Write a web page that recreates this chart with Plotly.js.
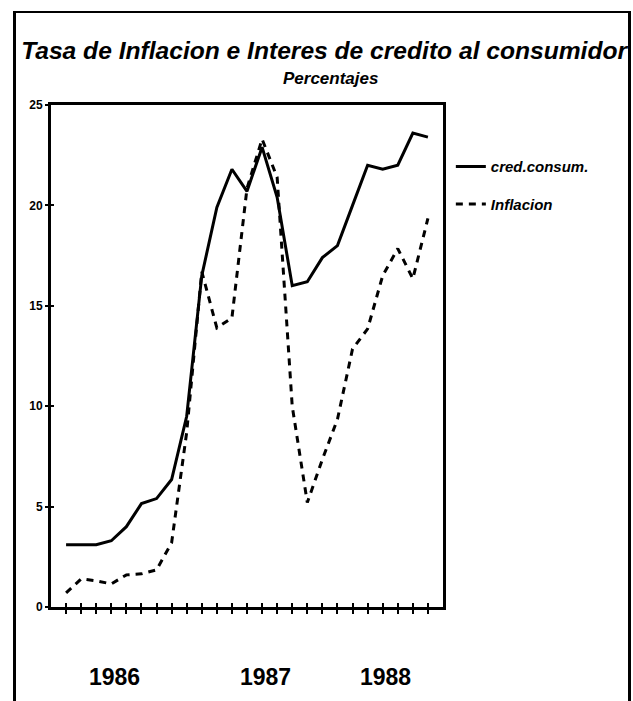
<!DOCTYPE html>
<html>
<head>
<meta charset="utf-8">
<script src="https://cdn.plot.ly/plotly-3.0.1.min.js"></script>
<style>
  html, body { margin: 0; padding: 0; background: #fff; }
  #wrap { position: relative; width: 633px; height: 701px; }
  #chart { position: absolute; left: 0; top: 0; width: 633px; height: 701px; }
  #frame { position: absolute; left: 13px; top: 11px; width: 612px; height: 700px;
           border-left: 3px solid #000; border-top: 2px solid #000; border-right: 3px solid #000; pointer-events: none; }
</style>
</head>
<body>
<div id="wrap">
  <div id="chart"></div>
  <div id="frame"></div>
</div>
<script>
// ---- data ----
const months = [1,2,3,4,5,6,7,8,9,10,11,12,13,14,15,16,17,18,19,20,21,22,23,24,25];
const credConsum = [3.1,3.1,3.1,3.3,4.0,5.15,5.4,6.35,9.5,16.5,19.9,21.8,20.7,22.9,20.4,16.0,16.2,17.4,18.0,20.0,22.0,21.8,22.0,23.6,23.4];
const inflacion  = [0.7,1.4,1.3,1.15,1.6,1.65,1.85,3.2,8.7,16.7,13.9,14.4,20.85,23.3,21.4,10.0,5.2,7.35,9.35,12.85,13.85,16.5,17.85,16.35,19.35];
const seriesNames = ["cred.consum.", "Inflacion"];
const yearLabels = ["1986", "1987", "1988"];
const yearPos = [4.2, 14.2, 22.2];
const yTicks = [0, 5, 10, 15, 20, 25];

const FONT_BI = "Liberation Sans, Arial, sans-serif";

const traces = [
  { x: months, y: credConsum, name: seriesNames[0], type: "scatter", mode: "lines",
    line: { color: "#000", width: 3 }, legendgroup: "a" },
  { x: months, y: inflacion, name: seriesNames[1], type: "scatter", mode: "lines",
    line: { color: "#000", width: 3, dash: "7px,6px" }, legendgroup: "b" },
  // invisible helper trace for crossing tick marks on overlay axes
  { x: [months[0]], y: [0], xaxis: "x2", yaxis: "y2", mode: "markers",
    marker: { opacity: 0 }, showlegend: false, hoverinfo: "skip" }
];

const layout = {
  width: 633, height: 701,
  paper_bgcolor: "#fff", plot_bgcolor: "#fff",
  margin: { l: 51, r: 190, t: 105, b: 94 },
  showlegend: true,
  title: {
    text: "<b><i>Tasa de Inflacion e Interes de credito al consumidor</i></b>",
    font: { family: FONT_BI, size: 24.6, color: "#000" },
    x: 0.512, xanchor: "center", xref: "container",
    y: 0.928, yanchor: "middle", yref: "container"
  },
  xaxis: {
    range: [0, 26], tickvals: months, showticklabels: false,
    ticks: "outside", ticklen: 4, tickwidth: 2, tickcolor: "#000",
    showline: true, linecolor: "#000", linewidth: 3, mirror: true,
    showgrid: false, zeroline: false, fixedrange: true
  },
  yaxis: {
    range: [0, 25], tickvals: yTicks, ticktext: yTicks.map(t => "<b>" + t + "</b>"),
    ticks: "outside", ticklen: 3, tickwidth: 2, tickcolor: "#000",
    tickfont: { family: FONT_BI, size: 12, color: "#000", weight: 700 },
    showline: true, linecolor: "#000", linewidth: 3, mirror: true,
    showgrid: false, zeroline: false, fixedrange: true
  },
  xaxis2: {
    overlaying: "x", matches: "x", range: [0, 26], tickvals: months, showticklabels: false,
    ticks: "inside", ticklen: 4, tickwidth: 2, tickcolor: "#000",
    showline: false, showgrid: false, zeroline: false, fixedrange: true
  },
  yaxis2: {
    overlaying: "y", range: [0, 25], tickvals: yTicks, showticklabels: false,
    ticks: "inside", ticklen: 3, tickwidth: 2, tickcolor: "#000",
    showline: false, showgrid: false, zeroline: false, fixedrange: true
  },
  legend: {
    x: 1.02, xref: "paper", xanchor: "left", y: 0.91, yanchor: "top",
    bgcolor: "rgba(0,0,0,0)", borderwidth: 0,
    font: { family: FONT_BI, size: 15, color: "#000", style: "italic", weight: 700 },
    traceorder: "grouped", tracegroupgap: 15, itemwidth: 30
  },
  annotations: [
    { text: "<b><i>Percentajes</i></b>", xref: "paper", yref: "paper",
      x: 0.712, y: 1.052, xanchor: "center", yanchor: "middle", showarrow: false,
      font: { family: FONT_BI, size: 17, color: "#000" } }
  ].concat(yearLabels.map((t, i) => ({
      text: "<b>" + t + "</b>", xref: "x", yref: "paper", x: yearPos[i], y: -0.14,
      xanchor: "center", yanchor: "middle", showarrow: false,
      font: { family: FONT_BI, size: 23, color: "#000" }
  })))
};

Plotly.newPlot("chart", traces, layout, { staticPlot: true, displayModeBar: false });
</script>
</body>
</html>
